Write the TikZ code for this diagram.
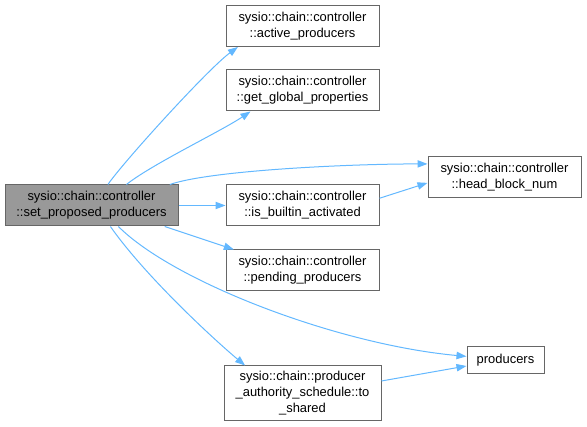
\documentclass[tikz,border=0pt]{standalone}
\usepackage{fontspec}
\setmainfont{Liberation Sans}
\usetikzlibrary{arrows.meta}
\definecolor{edgeblue}{HTML}{63B8FF}
\definecolor{boxborder}{HTML}{666666}
\definecolor{mainfill}{HTML}{999999}
\begin{document}
\begin{tikzpicture}[x=0.75pt,y=-0.75pt,
  box/.style={draw=boxborder, line width=0.75pt, fill=white, inner sep=0pt, align=center,
    font=\fontsize{9.7pt}{12pt}\selectfont, text=black,
    minimum width=114.75pt, minimum height=30.75pt},
  mainbox/.style={box, fill=mainfill, minimum width=129.75pt},
  edge/.style={draw=edgeblue, line width=0.75pt, -{Triangle[length=7.5pt,width=5.5pt]}}]
\useasboundingbox (0,0) rectangle (587,427);
\node[mainbox] (main) at (91.5,205.5) {sysio::chain::controller\\::set\_proposed\_producers};
\node[box] (active) at (302.5,26) {sysio::chain::controller\\::active\_producers};
\node[box] (global) at (302.5,90.5) {sysio::chain::controller\\::get\_global\_properties};
\node[box] (builtin) at (302.5,205) {sysio::chain::controller\\::is\_builtin\_activated};
\node[box] (pending) at (302.5,270.5) {sysio::chain::controller\\::pending\_producers};
\node[box, minimum width=117.75pt, minimum height=41.25pt] (toshared) at (302.5,393.5) {sysio::chain::producer\\\_authority\_schedule::to\\\_shared};
\node[box] (head) at (504.5,177.5) {sysio::chain::controller\\::head\_block\_num};
\node[box, minimum width=57.75pt, minimum height=20.25pt] (producers) at (505.5,360.5) {producers};
\draw[edge] (main.52.9) .. controls +(15,-22) and +(-30,22) .. (active.-162.3);
\draw[edge] (main.31.5) .. controls +(25,-20) and +(-30,20) .. (global.-158.5);
\draw[edge] (main.15.2) .. controls +(40,-14) and +(-80,0) .. (head.170.7);
\draw[edge] (main.east) -- (main.east -| builtin.west);
\draw[edge] (main.-16) -- (pending.163.6);
\draw[edge] (main.-38.8) .. controls +(55,55) and +(-130,-12) .. (producers.174.8);
\draw[edge] (main.-48) .. controls +(35,50) and +(-30,-25) .. (toshared.154.4);
\draw[edge] (builtin.5.6) -- (head.184.9);
\draw[edge] (toshared.9.8) -- (producers.188.1);
\end{tikzpicture}
\end{document}
